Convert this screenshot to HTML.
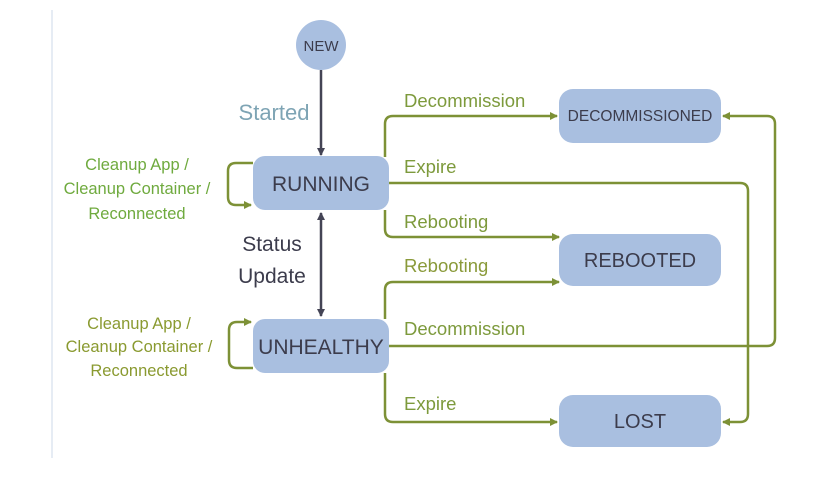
<!DOCTYPE html>
<html><head><style>
body{margin:0;background:#fff;}
svg{display:block;font-family:"Liberation Sans",sans-serif;}
</style></head><body>
<svg width="837" height="483" viewBox="0 0 837 483" xmlns="http://www.w3.org/2000/svg">
<defs>
<marker id="g" markerWidth="8" markerHeight="8" refX="7" refY="4" orient="auto" markerUnits="userSpaceOnUse"><path d="M0,0 L8,4 L0,8 z" fill="#7d9136"/></marker>
<marker id="d" markerWidth="8" markerHeight="8" refX="7" refY="4" orient="auto-start-reverse" markerUnits="userSpaceOnUse"><path d="M0,0 L8,4 L0,8 z" fill="#444455"/></marker>
</defs>
<line x1="52" y1="10" x2="52" y2="458" stroke="#dde6f0" stroke-width="1.5"/>
<g fill="none" stroke="#7d9136" stroke-width="2.5">
<path d="M385,157 V124 Q385,116 393,116 H557" marker-end="url(#g)"/>
<path d="M389,183 H740 Q748,183 748,191 V414 Q748,422 740,422 H723" marker-end="url(#g)"/>
<path d="M385,210 V229 Q385,237 393,237 H559" marker-end="url(#g)"/>
<path d="M385,319 V290 Q385,282 393,282 H559" marker-end="url(#g)"/>
<path d="M389,346 H767 Q775,346 775,338 V124 Q775,116 767,116 H723" marker-end="url(#g)"/>
<path d="M385,373 V414 Q385,422 393,422 H557" marker-end="url(#g)"/>
<path d="M253,163 H236 Q228,163 228,171 V197 Q228,205 236,205 H251" marker-end="url(#g)"/>
<path d="M253,368 H237 Q229,368 229,360 V330 Q229,322 237,322 H251" marker-end="url(#g)"/>
</g>
<g stroke="#444455" stroke-width="2.5" fill="none">
<line x1="321" y1="70" x2="321" y2="155" marker-end="url(#d)"/>
<line x1="321" y1="213" x2="321" y2="316" marker-start="url(#d)" marker-end="url(#d)"/>
</g>
<circle cx="321" cy="45" r="25" fill="#a9bfe0"/>
<g fill="#a9bfe0">
<rect x="253" y="156" width="136" height="54" rx="12"/>
<rect x="253" y="319" width="136" height="54" rx="12"/>
<rect x="559" y="89" width="162" height="54" rx="14"/>
<rect x="559" y="234" width="162" height="52" rx="14"/>
<rect x="559" y="395" width="162" height="52" rx="14"/>
</g>
<g fill="#3c3c4c" text-anchor="middle">
<text x="321" y="51" font-size="15">NEW</text>
<text x="321" y="191" font-size="21">RUNNING</text>
<text x="321" y="354" font-size="21">UNHEALTHY</text>
<text x="640" y="121" font-size="15.5">DECOMMISSIONED</text>
<text x="640" y="267" font-size="20">REBOOTED</text>
<text x="640" y="428" font-size="20">LOST</text>
<text x="272" y="251" font-size="21">Status</text>
<text x="272" y="283" font-size="21">Update</text>
</g>
<text x="274" y="120" font-size="22" fill="#7ea4b4" text-anchor="middle">Started</text>
<g fill="#7d9a3c" font-size="18.5">
<text x="404" y="107">Decommission</text>
<text x="404" y="173">Expire</text>
<text x="404" y="228">Rebooting</text>
<text x="404" y="272" fill="#8a9a3a">Rebooting</text>
<text x="404" y="335">Decommission</text>
<text x="404" y="410">Expire</text>
</g>
<g fill="#6faa3e" font-size="16.5" text-anchor="middle">
<text x="137" y="170">Cleanup App /</text>
<text x="137" y="194">Cleanup Container /</text>
<text x="137" y="219">Reconnected</text>
</g>
<g fill="#8a9a30" font-size="16.5" text-anchor="middle">
<text x="139" y="329">Cleanup App /</text>
<text x="139" y="352">Cleanup Container /</text>
<text x="139" y="376">Reconnected</text>
</g>
</svg>
</body></html>
